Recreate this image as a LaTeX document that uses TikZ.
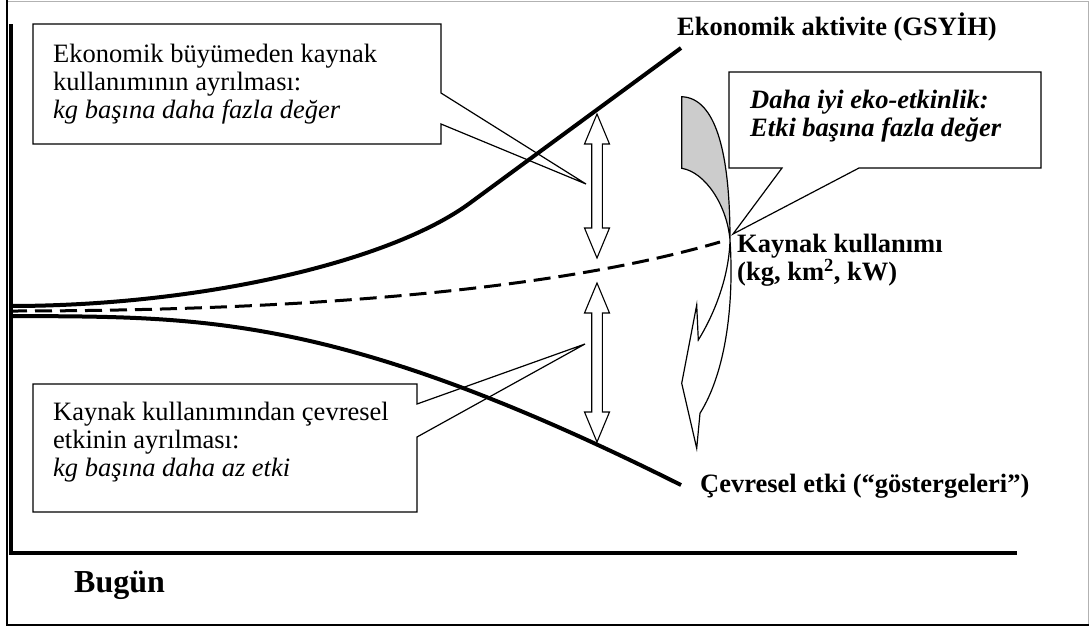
\documentclass[tikz,border=0pt]{standalone}
\usepackage{fontspec}
\setmainfont{Liberation Serif}
\newcommand\DoubleArrow[3]{%
  \path[dblarrow] (#1,#2) -- (#1+12.5,#2+30) -- (#1+5.3,#2+30) -- (#1+5.3,#3-30)
    -- (#1+12.5,#3-30) -- (#1,#3) -- (#1-12.5,#3-30) -- (#1-5.3,#3-30)
    -- (#1-5.3,#2+30) -- (#1-12.5,#2+30) -- cycle;}
\begin{document}
\begin{tikzpicture}[x=1pt,y=-1pt,
  trend/.style={line width=4pt},
  dashtrend/.style={line width=3pt, dash pattern=on 17pt off 8pt},
  callout/.style={draw, line width=1.2pt, line join=miter},
  dblarrow/.style={draw, fill=white, line width=1.1pt, line join=miter},
  boxtext/.style={inner sep=0pt, anchor=base west, font=\fontsize{26.5}{28.3}\selectfont},
  label/.style={inner sep=0pt, anchor=base west, font=\fontsize{26.5}{28.3}\selectfont\bfseries}]
\useasboundingbox (0,0) rectangle (1090,627);

% outer frame
\draw[gray!60, line width=1pt] (7,1) -- (1088.5,1) -- (1088.5,625);
\draw[line width=1.6pt] (7,0) -- (7,625);
\draw[line width=2.5pt] (6,625) -- (1089,625);

% axes
\draw[line width=4pt, line join=miter] (10.5,24) -- (10.5,553) -- (1017,553);

% end points of the three trends
\coordinate (o1) at (10,306);
\coordinate (o2) at (10,311);
\coordinate (o3) at (10,316);
\coordinate (gdpEnd) at (681,48);
\coordinate (resEnd) at (720,242);
\coordinate (impEnd) at (681,485);

% trends
\draw[trend] (o1) .. controls (200,306) and (390,262) .. (470,203) -- (gdpEnd);
\draw[dashtrend] (o2) .. controls (350,311) and (580,283) .. (resEnd);
\draw[trend] (o3) .. controls (200,317) and (335,312) .. (impEnd);

% trend labels
\node[label] (gdp) at (677,35) {Ekonomik aktivite (GSYİH)};
\node[label] (res) at (737,252) {\vtop{\hbox{Kaynak kullanımı}\hbox{(kg, km\textsuperscript{2}, kW)}}};
\node[label] (imp) at (700,492) {Çevresel etki (“göstergeleri”)};
\node[inner sep=0pt, anchor=base west, font=\fontsize{32}{34}\selectfont\bfseries] (today) at (74,592) {Bugün};

% decoupling gaps
\DoubleArrow{597}{114}{258}
\DoubleArrow{597}{283}{442}

% curved arrow: white front band with a grey folded back
\path[fill=white] (681.7,96.7) .. controls (715,98) and (730,150) .. (730,240)
  .. controls (734,300) and (727,370) .. (700,413.3) -- (696.7,448.3) -- (681.7,383.3)
  -- (696.7,305) -- (698.3,340) .. controls (712,318) and (729,280) .. (730,240)
  .. controls (727,205) and (705,172) .. (681.7,168.3) -- cycle;
\path[fill=gray!40] (681.7,96.7) .. controls (715,98) and (730,150) .. (730,240)
  .. controls (727,205) and (705,172) .. (681.7,168.3) -- cycle;
\draw[line width=1.2pt, line join=miter] (681.7,96.7) .. controls (715,98) and (730,150) .. (730,240)
  .. controls (734,300) and (727,370) .. (700,413.3) -- (696.7,448.3) -- (681.7,383.3)
  -- (696.7,305) -- (698.3,340) .. controls (712,318) and (729,280) .. (730,240)
  .. controls (727,205) and (705,172) .. (681.7,168.3) -- cycle;

% callouts
\coordinate (p1) at (586,184);
\coordinate (p2) at (585,344);
\coordinate (p3) at (733,234);
\draw[callout] (33,24) -- (441,24) -- (441,93) -- (p1) -- (441,124) -- (441,144) -- (33,144) -- cycle;
\draw[callout] (33,384) -- (417,384) -- (417,404) -- (p2) -- (417,437) -- (417,512) -- (33,512) -- cycle;
\draw[callout, fill=white] (729,72) -- (1041,72) -- (1041,168) -- (859,168) -- (p3) -- (782,168) -- (729,168) -- cycle;

\node[boxtext] (t1) at (53,62) {\vtop{\hbox{Ekonomik büyümeden kaynak}\hbox{kullanımının ayrılması:}\hbox{\itshape kg başına daha fazla değer}}};
\node[boxtext] (t2) at (53,420) {\vtop{\hbox{Kaynak kullanımından çevresel}\hbox{etkinin ayrılması:}\hbox{\itshape kg başına daha az etki}}};
\node[label] (t3) at (750,108) {\vtop{\itshape\hbox{Daha iyi eko-etkinlik:}\hbox{Etki başına fazla değer}}};
\end{tikzpicture}
\end{document}
